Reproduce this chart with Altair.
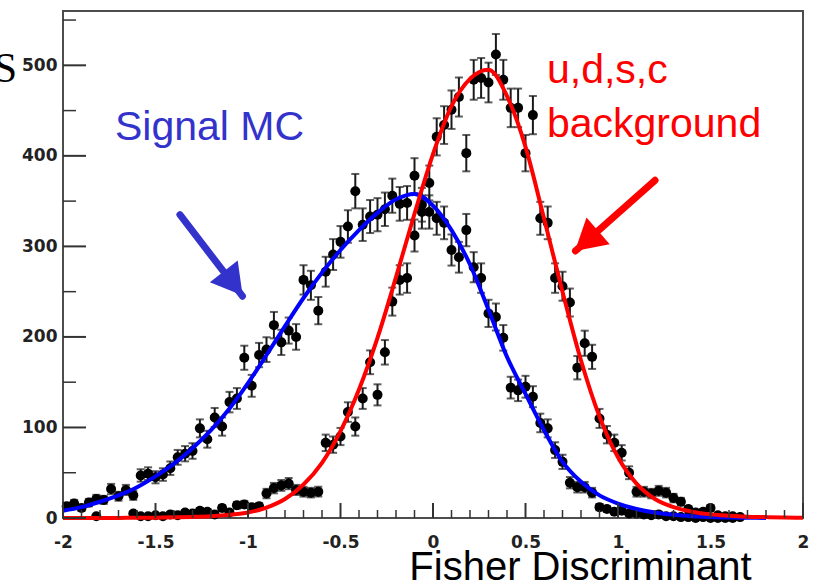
import altair as alt
import pandas as pd

# ---------------- data ----------------
BIN = 0.04
signal_x0 = -1.98
signal_counts = [
    13, 16, 11, 17, 21, 20, 32, 24, 31, 25,          # -1.98 .. -1.62
    47, 49, 45, 48, 55, 67, 71, 74, 99, 87,          # -1.58 .. -1.22
    111, 101, 128, 132, 177, 146, 180, 186, 213, 194,  # -1.18 .. -0.82
    207, 200, 263, 257, 229, 272, 291, 305, 322, 361,  # -0.78 .. -0.42
    324, 333, 335, 341, 356, 347, 348, 378, 346, 338,  # -0.38 .. -0.02
    331, 326, 296, 288, 318, 277, 265, 226, 222, 199,  # 0.02 .. 0.38
    144, 141, 145, 134, 105, 99, 75, 62, 39, 34,       # 0.42 .. 0.78
    34, 28, 12, 10, 7, 8, 5, 5, 4, 3,                  # 0.82 .. 1.18
    4, 2, 2, 1, 1, 0, 1, 0, 0, 0,                      # 1.22 .. 1.58
    0,                                                 # 1.62
]
bkg_x0 = -1.82
bkg_counts = [
    2, None, None, None, None, 5, 2, 2, 3, 2,          # -1.82 .. -1.46
    4, 3, 6, 5, 8, 7, 4, 11, 6, 14,                    # -1.42 .. -1.06
    15, 12, 13, 27, 33, 36, 38, 31, 29, 28,            # -1.02 .. -0.66
    29, 83, 81, 90, 117, 101, 132, 172, 136, 183,      # -0.62 .. -0.26
    239, 263, 265, 312, 338, 370, 421, 434, 451, 465,  # -0.22 .. 0.14
    403, 484, 486, 481, 512, 484, 453, 453, 403, 445,  # 0.18 .. 0.54
    331, 326, 265, 256, 238, 166, 193, 178, 110, 92,   # 0.58 .. 0.94
    83, 72, 50, 29, 29, 27, 30, 28, 22, 18,            # 0.98 .. 1.34
    10, 6, 7, 11, 3, 2, 2, 1,                          # 1.38 .. 1.66
]

fit_x = [-2.0, -1.9, -1.8, -1.7, -1.6, -1.5, -1.4, -1.3, -1.2, -1.1,
         -1.0, -0.9, -0.8, -0.7, -0.6, -0.5, -0.4, -0.3, -0.2, -0.1,
         0.0, 0.1, 0.2, 0.3, 0.4, 0.5, 0.6, 0.7, 0.8, 0.9,
         1.0, 1.1, 1.2, 1.3, 1.4, 1.5, 1.6, 1.7, 1.8, 1.9, 2.0]
signal_fit = [8, 12, 18, 25, 34, 46, 60, 77, 97, 121,
              149, 180, 212, 243, 271, 296, 318, 337, 352, 358,
              345, 318, 280, 230, 178, 137, 97, 62, 40, 25,
              16, 10, 6, 3.5, 2, 1, 0.5, 0.3, 0.1]
bkg_fit = [0, 0, 0, 0.1, 0.2, 0.4, 0.7, 1.2, 2, 3.5,
           6, 11.5, 21, 37, 61, 96, 142, 199, 266, 336,
           402, 455, 485, 495, 466, 410, 331, 250, 174, 112,
           67, 38, 21, 12, 7, 4, 2.5, 1.5, 1, 0.5, 0.3]

label_text = ["Signal MC", "u,d,s,c", "background"]
label_x = [-1.719, 0.616, 0.616]
label_y = [417.7, 480.7, 421.0]
label_color = ["#3333cc", "#ff0000", "#ff0000"]

arrow_color = ["#3333cc", "#ff0000"]
arrow_start_x = [-1.368, 1.20]
arrow_start_y = [335, 373]
arrow_tip_x = [-1.03, 0.77]
arrow_tip_y = [245, 295]
arrow_head_x = [-1.08, 0.83]
arrow_head_y = [259, 306]
arrow_angle = [142, 229]

x_major_ticks = [-2, -1.5, -1, -0.5, 0, 0.5, 1, 1.5, 2]
x_minor_ticks = [-1.9, -1.8, -1.7, -1.6, -1.4, -1.3, -1.2, -1.1,
                 -0.9, -0.8, -0.7, -0.6, -0.4, -0.3, -0.2, -0.1,
                 0.1, 0.2, 0.3, 0.4, 0.6, 0.7, 0.8, 0.9,
                 1.1, 1.2, 1.3, 1.4, 1.6, 1.7, 1.8, 1.9]
y_major_ticks = [0, 100, 200, 300, 400, 500]
y_minor_ticks = [50, 150, 250, 350, 450, 550]

# ---------------- tables ----------------
rows = []
for i, v in enumerate(signal_counts):
    if v is not None:
        rows.append({"x": round(signal_x0 + BIN * i, 2), "n": v})
for i, v in enumerate(bkg_counts):
    if v is not None:
        rows.append({"x": round(bkg_x0 + BIN * i, 2), "n": v})
pts = pd.DataFrame(rows)

sig_fit_df = pd.DataFrame({"x": fit_x[:len(signal_fit)], "v": signal_fit})
bkg_fit_df = pd.DataFrame({"x": fit_x, "v": bkg_fit})
labels_df = pd.DataFrame({"x": label_x, "y": label_y, "t": label_text, "c": label_color})
arrows_df = pd.DataFrame({"x": arrow_start_x, "y": arrow_start_y, "x2": arrow_tip_x,
                          "y2": arrow_tip_y, "hx": arrow_head_x, "hy": arrow_head_y,
                          "a": arrow_angle, "c": arrow_color})

W, H = 740, 507
xsc = alt.Scale(domain=[-2, 2], nice=False, zero=False)
ysc = alt.Scale(domain=[0, 560], nice=False, zero=False)

x_axis = alt.Axis(values=x_major_ticks, labelExpr="'' + datum.value", ticks=False, tickSize=0,
                  domain=False, grid=False, labelPadding=16, labelFlush=False,
                  labelOverlap=False, labelBaseline="top",
                  title="Fisher Discriminant", titleFont="Liberation Sans", titleFontSize=40,
                  titleFontWeight="normal", titleColor="black", titleX=517, titleY=61,
                  titleAlign="center", titleBaseline="alphabetic")
y_axis = alt.Axis(values=y_major_ticks, labelExpr="'' + datum.value", ticks=False, tickSize=0,
                  domain=False, grid=False, labelPadding=6, title=None, labelFlush=False,
                  labelOverlap=False)


def X(field):
    return alt.X(field, scale=xsc, axis=x_axis)


def Y(field):
    return alt.Y(field, scale=ysc, axis=y_axis)


err_base = alt.Chart(pts).transform_filter("datum.n > 0").transform_calculate(
    lo="datum.n - sqrt(datum.n)", hi="datum.n + sqrt(datum.n)")
err_rule = err_base.mark_rule(color="#1a1a1a", strokeWidth=2).encode(
    x=X("x:Q"), y=Y("lo:Q"), y2="hi:Q")
cap_lo = err_base.mark_tick(orient="horizontal", size=8, thickness=2, color="#1a1a1a").encode(
    x=X("x:Q"), y=Y("lo:Q"))
cap_hi = err_base.mark_tick(orient="horizontal", size=8, thickness=2, color="#1a1a1a").encode(
    x=X("x:Q"), y=Y("hi:Q"))

dots = alt.Chart(pts).mark_circle(size=100, color="black", opacity=1).encode(
    x=X("x:Q"), y=Y("n:Q"))

sig_line = alt.Chart(sig_fit_df).mark_line(color="#0000ff", strokeWidth=4, interpolate="monotone").encode(
    x=X("x:Q"), y=Y("v:Q"))
bkg_line = alt.Chart(bkg_fit_df).mark_line(color="#ff0000", strokeWidth=4, interpolate="monotone").encode(
    x=X("x:Q"), y=Y("v:Q"))

texts = alt.Chart(labels_df).mark_text(font="Liberation Sans", fontSize=41, align="left",
                                       baseline="alphabetic").encode(
    x=X("x:Q"), y=Y("y:Q"), text="t:N", color=alt.Color("c:N", scale=None))

shafts = alt.Chart(arrows_df).mark_rule(strokeWidth=7, strokeCap="round").encode(
    x=X("x:Q"), y=Y("y:Q"), x2="x2:Q", y2="y2:Q", color=alt.Color("c:N", scale=None))
heads = alt.Chart(arrows_df).mark_point(shape="triangle-up", filled=True, size=1250, opacity=1,
                                         strokeWidth=0).encode(
    x=X("hx:Q"), y=Y("hy:Q"), angle=alt.Angle("a:Q", scale=None), color=alt.Color("c:N", scale=None))

xmaj = alt.Chart(pd.DataFrame({"t": x_major_ticks})).mark_rule(color="#333333", strokeWidth=2).encode(
    x=X("t:Q"), y=alt.value(H), y2=alt.value(H - 15))
xmin = alt.Chart(pd.DataFrame({"t": x_minor_ticks})).mark_rule(color="#333333", strokeWidth=1.5).encode(
    x=X("t:Q"), y=alt.value(H), y2=alt.value(H - 8))
ymaj = alt.Chart(pd.DataFrame({"t": y_major_ticks})).mark_rule(color="#333333", strokeWidth=2).encode(
    y=Y("t:Q"), x=alt.value(0), x2=alt.value(23))
ymin = alt.Chart(pd.DataFrame({"t": y_minor_ticks})).mark_rule(color="#333333", strokeWidth=1.5).encode(
    y=Y("t:Q"), x=alt.value(0), x2=alt.value(13))

s_text = alt.Chart(pd.DataFrame({"t": ["S"]})).mark_text(
    font="Liberation Serif", fontSize=42, align="right", baseline="alphabetic", color="black").encode(
    x=alt.value(-46), y=alt.value(71), text="t:N")

chart = alt.layer(
    err_rule, cap_lo, cap_hi, dots, sig_line, bkg_line, texts, shafts, heads,
    xmaj, xmin, ymaj, ymin, s_text
).properties(
    width=W, height=H,
    padding={"left": 63, "top": 11, "right": 26, "bottom": 66},
    autosize=alt.AutoSizeParams(type="none"),
    background="white",
).configure_view(
    stroke="#4d4d4d", strokeWidth=2
).configure_axis(
    labelFont="DejaVu Sans", labelFontWeight="bold", labelFontSize=17, labelColor="#222222"
)

chart.save("out.html", embed_options={"renderer": "svg", "actions": False})
